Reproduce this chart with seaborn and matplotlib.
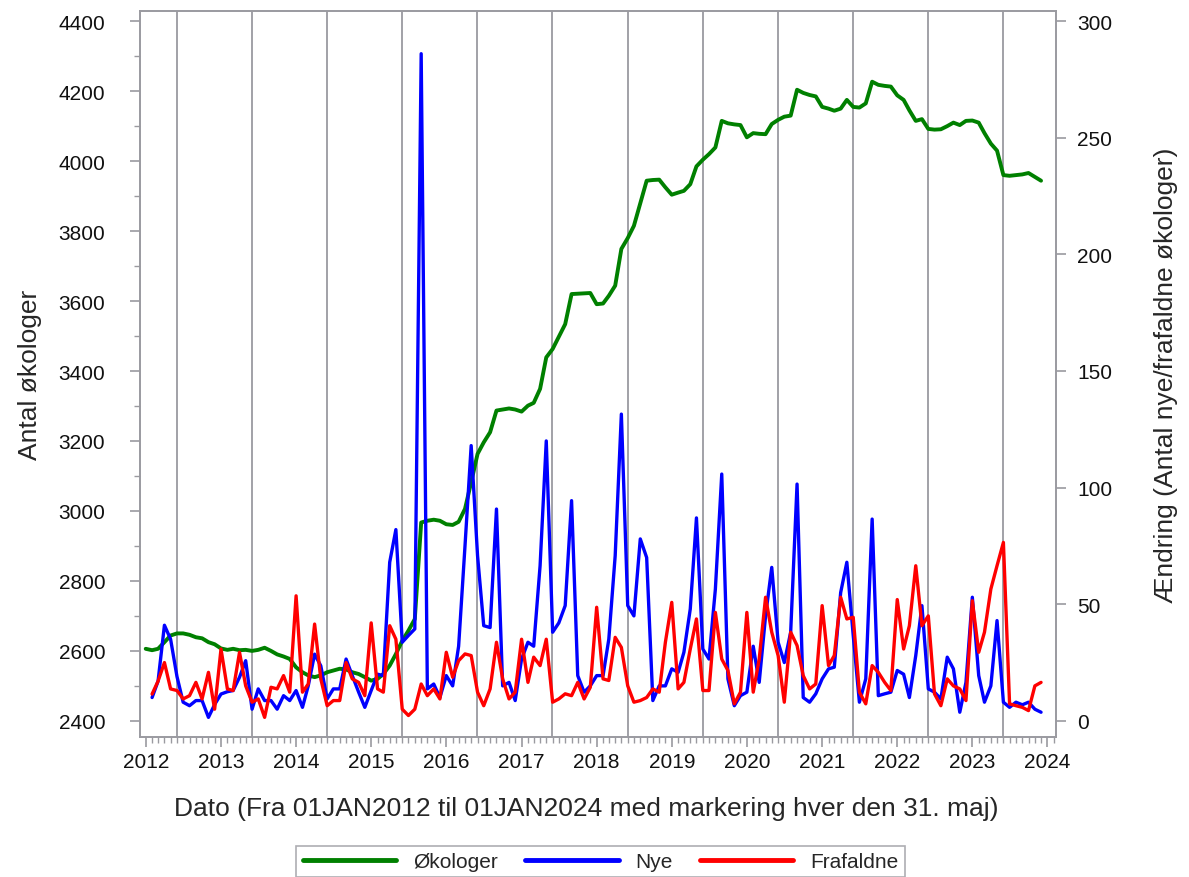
import numpy as np
import pandas as pd
import matplotlib
matplotlib.use('Agg')
import matplotlib.pyplot as plt
import matplotlib.dates as mdates
from matplotlib.ticker import MultipleLocator
import seaborn as sns

# Monthly data Jan 2012 - Dec 2023
dates = pd.date_range('2012-01-01', periods=144, freq='MS')

# Antal økologer (left axis)
okologer = [2606, 2602, 2606, 2625, 2644, 2650, 2650, 2646, 2639, 2636, 2625, 2619,
            2607, 2603, 2606, 2602, 2603, 2600, 2603, 2609, 2600, 2590, 2584, 2577,
            2553, 2539, 2530, 2525, 2530, 2539, 2544, 2549, 2547, 2539, 2534, 2525,
            2515, 2520, 2534, 2558, 2591, 2629, 2658, 2691, 2967, 2972, 2975, 2972,
            2962, 2960, 2969, 3006, 3082, 3163, 3196, 3225, 3287, 3290, 3293, 3290,
            3284, 3301, 3309, 3349, 3439, 3463, 3498, 3534, 3620, 3621, 3622, 3623,
            3591, 3593, 3615, 3644, 3749, 3780, 3815, 3880, 3944, 3946, 3947, 3925,
            3904, 3910, 3915, 3934, 3985, 4004, 4020, 4039, 4115, 4108, 4105, 4103,
            4068, 4080, 4078, 4077, 4106, 4118, 4127, 4130, 4204, 4195, 4189, 4185,
            4155, 4150, 4144, 4150, 4175, 4155, 4153, 4165, 4227, 4218, 4215, 4213,
            4188, 4175, 4145, 4115, 4120, 4092, 4090, 4091, 4100, 4110, 4103, 4115,
            4116, 4110, 4080, 4050, 4030, 3960, 3958, 3960, 3962, 3966, 3955, 3944]

# Nye og frafaldne (right axis), Feb 2012 - Dec 2023
nye = [10, 17, 41, 35, 19, 8, 6.5, 8.7, 8.7, 1.5, 7, 11.5,
       12.5, 13, 18.7, 25.8, 5, 13.7, 8.7, 8.7, 5, 10.8, 8.7, 13,
       5.8, 15, 28.6, 23.6, 9.4, 13.7, 13.7, 26.5, 19.4, 12.3, 5.8, 13,
       20, 19.4, 68, 82, 33.7, 36.6, 39.4, 286, 13.7, 15.8, 10, 19.4,
       15, 32, 75, 118, 70.8, 40.8, 40, 90.8, 15, 16.5, 8.7, 26.5,
       33.7, 32, 66.5, 120, 38, 42, 49.4, 94.4, 19.4, 12.3, 15, 19.4,
       19.4, 35, 70.8, 131.5, 49.4, 45, 78, 70, 8.7, 15, 15, 22.3,
       20.8, 29.4, 48, 87, 30.8, 26.5, 56.5, 105.8, 18, 6.5, 10.8, 12.3,
       32, 16.5, 45, 65.8, 33.7, 25, 38, 101.5, 10, 8, 11.6, 18,
       22.3, 23, 55, 68, 36.6, 8, 18, 86.5, 10.8, 11.6, 12.3, 21.6,
       20, 10, 28, 49.4, 13.7, 12.3, 9.4, 27.3, 22.3, 3.7, 16.5, 53,
       19.4, 8, 15, 43, 8, 5.8, 8, 6.9, 8, 5, 3.7]

frafaldne = [11.5, 17, 25, 13.7, 13, 9.4, 10.8, 16.5, 9.4, 20.8, 5, 30.8,
             13.7, 13, 29.4, 15, 8, 9.4, 1.5, 14.4, 13.7, 19.4, 12.3, 53.6,
             12.3, 15.8, 41.5, 18, 6.5, 8.7, 8.7, 25, 18, 16.5, 10.8, 42,
             13.7, 12.3, 40.8, 35, 5, 2.3, 5, 15.8, 10.8, 13.7, 9.4, 29.4,
             18.7, 25.8, 28.7, 28, 12.3, 6.5, 13.7, 33.7, 18, 9.4, 12.3, 35,
             16.5, 27.3, 23.7, 35, 8, 9.4, 11.6, 10.8, 16.5, 9.4, 14.4, 48.7,
             18, 17.3, 35.8, 31.5, 15, 8, 8.7, 10, 13.7, 12.3, 33.7, 50.8,
             13.7, 16.5, 30.8, 43.7, 13, 13, 46.5, 26.5, 21.6, 7.3, 12.3, 46.5,
             12.3, 26.5, 53, 38, 28, 8, 38, 32.3, 19.4, 13.7, 15.8, 49.4,
             23.7, 28, 53, 43.7, 44.4, 12.3, 7.3, 23.7, 20.8, 16.5, 13, 52,
             30.8, 40.8, 66.5, 40.8, 45, 11.6, 6.5, 18, 15, 13.7, 8.7, 51.5,
             29.4, 38, 56.5, 66.5, 76.5, 7.3, 6.5, 5.8, 4.4, 15, 16.5]

# markering hver den 31. maj
markering = pd.to_datetime([f'{y}-05-31' for y in range(2012, 2024)])

df_oko = pd.DataFrame({'dato': dates, 'antal': okologer})
df_nf = pd.DataFrame({'dato': dates[1:], 'nye': nye, 'frafaldne': frafaldne})

sns.set_style('white')
plt.rcParams['font.family'] = ['Liberation Sans', 'DejaVu Sans']
fs = 15
lfs = 19
gray = '#9a9aa0'

fig = plt.figure(figsize=(11.89, 8.78), dpi=100)
ax = fig.add_axes([0.1177, 0.1595, 0.7705, 0.8268])
ax2 = ax.twinx()

for d in markering:
    ax.axvline(d, color=gray, lw=1.3, zorder=0)

sns.lineplot(data=df_oko, x='dato', y='antal', ax=ax, color='#008000', lw=2.8,
             label='Økologer', legend=False)
sns.lineplot(data=df_nf, x='dato', y='nye', ax=ax2, color='#0000ff', lw=2.4,
             label='Nye', legend=False)
sns.lineplot(data=df_nf, x='dato', y='frafaldne', ax=ax2, color='#ff0000', lw=2.4,
             label='Frafaldne', legend=False)

ax.set_xlim(pd.Timestamp('2011-12-04'), pd.Timestamp('2024-02-12'))
ax.set_ylim(2354, 4429)
ax2.set_ylim(-6.9, 304.3)
ax.set_yticks(range(2400, 4401, 200))
ax.yaxis.set_minor_locator(MultipleLocator(100))
ax2.set_yticks(range(0, 301, 50))

ax.xaxis.set_major_locator(mdates.YearLocator())
ax.xaxis.set_major_formatter(mdates.DateFormatter('%Y'))
ax.xaxis.set_minor_locator(mdates.MonthLocator())

for a in (ax, ax2):
    for s in a.spines.values():
        s.set_color(gray)
        s.set_linewidth(1.2)
    a.tick_params(which='major', direction='out', length=7, width=1.2, color=gray,
                  labelsize=fs, labelcolor='#111111')
    a.tick_params(which='minor', direction='out', length=4, width=1, color=gray)
ax.tick_params(axis='x', which='both', bottom=True)
ax.tick_params(axis='y', which='both', left=True)
ax.tick_params(axis='y', which='major', pad=18)
ax2.tick_params(axis='y', which='major', right=True, pad=8)

ax.set_xlabel('Dato (Fra 01JAN2012 til 01JAN2024 med markering hver den 31. maj)',
              fontsize=lfs)
ax.xaxis.set_label_coords(0.487, -0.082)
ax.set_ylabel('Antal økologer', fontsize=lfs, labelpad=12)
ax2.set_ylabel('Ændring (Antal nye/frafaldne økologer)', fontsize=lfs, labelpad=30)

h1, l1 = ax.get_legend_handles_labels()
h2, l2 = ax2.get_legend_handles_labels()
leg = fig.legend(h1 + h2, l1 + l2, loc='lower center', bbox_to_anchor=(0.505, -0.012),
                 ncol=3, frameon=True, fancybox=False, edgecolor=gray, fontsize=fs,
                 handlelength=4.5, columnspacing=1.3, handletextpad=0.8,
                 borderpad=0.3)
leg.get_frame().set_linewidth(1.2)
for line in leg.get_lines():
    line.set_linewidth(3.5)

fig.savefig('out.png', dpi=100)
